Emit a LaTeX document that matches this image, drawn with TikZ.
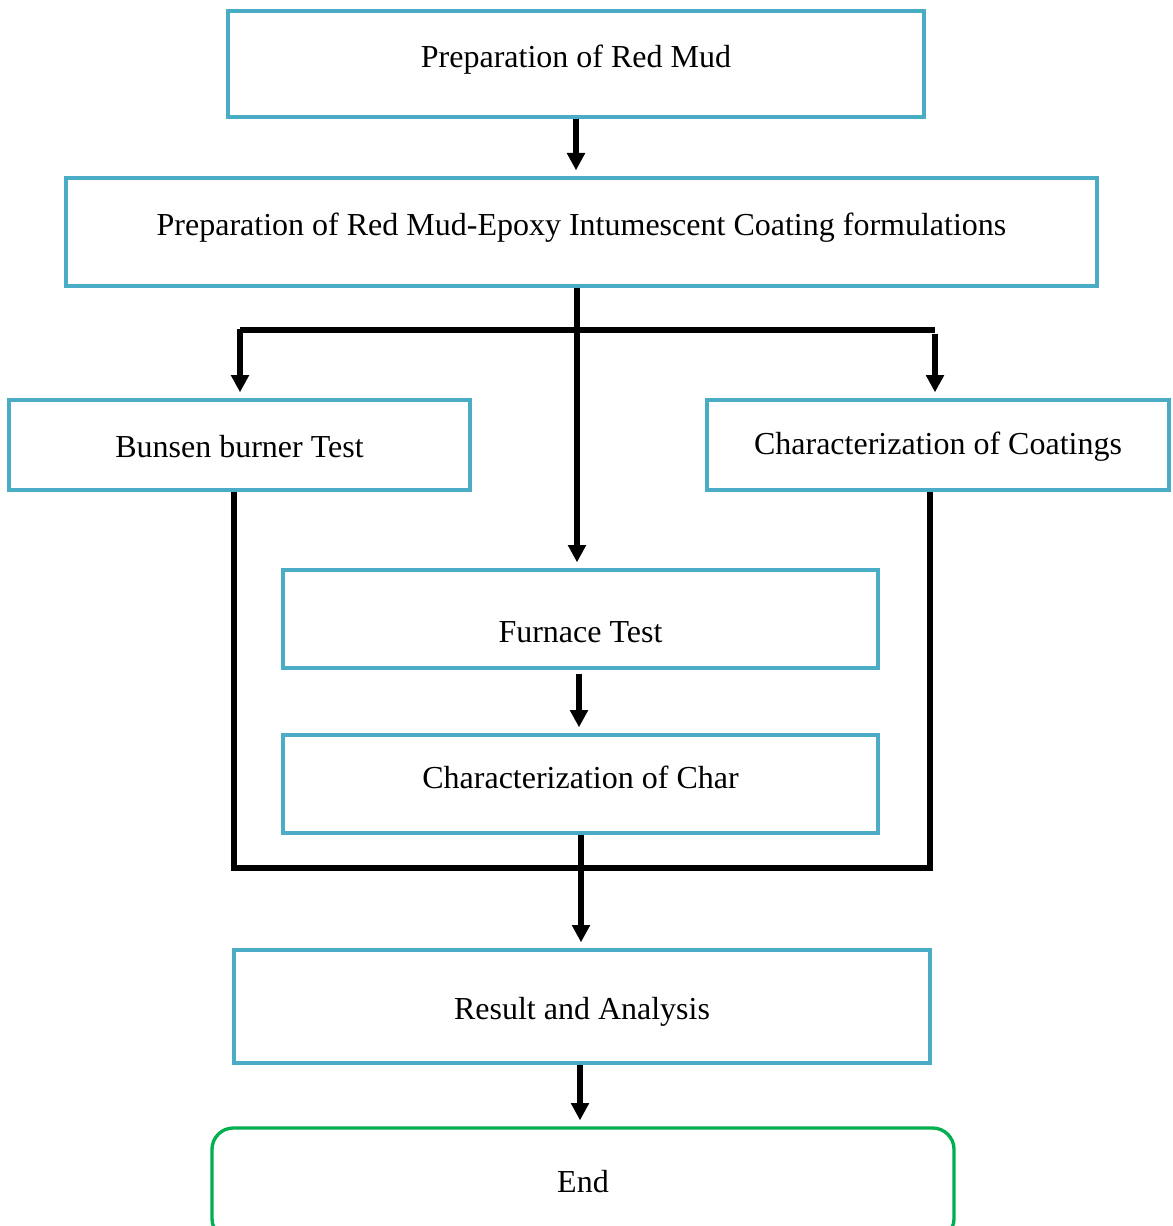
\documentclass[tikz,border=0pt]{standalone}
\usepackage{fontspec}
\setmainfont{Liberation Serif}
\usetikzlibrary{arrows.meta}
\definecolor{boxblue}{HTML}{4BACC6}
\definecolor{endgreen}{HTML}{00B050}
\newcommand\rtxt[2]{\raisebox{#1}[\height][\depth]{#2}}
\begin{document}
\begin{tikzpicture}[x=0.75pt,y=-0.75pt,
  box/.style={draw=boxblue, line width=2.5pt, rectangle, inner sep=0pt,
    font=\fontsize{24}{28}\selectfont},
  endbox/.style={draw=endgreen, line width=2.5pt, rectangle, rounded corners=16pt, inner sep=0pt,
    font=\fontsize{24}{28}\selectfont},
  conn/.style={line width=3.8pt, black},
  arr/.style={conn, -{Triangle[width=13pt,length=13pt]}, shorten >=4.5pt}]
\useasboundingbox (0,0) rectangle (1172,1226);
% boxes
\node[box, minimum width=696*0.75pt, minimum height=106*0.75pt] (b1) at (576,64) {\rtxt{3pt}{Preparation of Red Mud}};
\node[box, minimum width=1031*0.75pt, minimum height=108*0.75pt] (b2) at (581.5,232) {\rtxt{3pt}{Preparation of Red Mud-Epoxy Intumescent Coating formulations}};
\node[box, minimum width=461*0.75pt, minimum height=90*0.75pt] (b3) at (239.5,445) {\rtxt{-1.5pt}{Bunsen burner Test}};
\node[box, minimum width=462*0.75pt, minimum height=90*0.75pt] (b4) at (938,445) {\rtxt{-1.5pt}{Characterization of Coatings}};
\node[box, minimum width=595*0.75pt, minimum height=98*0.75pt] (b5) at (580.5,619) {\rtxt{-10pt}{Furnace Test}};
\node[box, minimum width=595*0.75pt, minimum height=98*0.75pt] (b6) at (580.5,784) {\rtxt{5pt}{Characterization of Char}};
\node[box, minimum width=696*0.75pt, minimum height=113*0.75pt] (b7) at (582,1006.5) {\rtxt{-4pt}{Result and Analysis}};
\node[endbox, minimum width=742*0.75pt, minimum height=112*0.75pt] (b8) at (583,1184) {\rtxt{2pt}{End}};
% junction coordinates
\coordinate (hl) at (240,330);
\coordinate (hr) at (935,330);
\coordinate (bl) at (234,868);
\coordinate (br) at (930,868);
\coordinate (x1) at (576,0);
\coordinate (x2) at (577,0);
\coordinate (x5) at (579,0);
\coordinate (x6) at (581,0);
\coordinate (x7) at (580,0);
% connectors
\draw[arr] (x1 |- b1.south) -- (x1 |- b2.north);
\draw[conn] (hl) -- (hr);
\draw[arr] ([yshift=1pt]hl) -- (hl |- b3.north);
\draw[arr] ([yshift=-3pt]hr) -- (hr |- b4.north);
\draw[arr] (x2 |- b2.south) -- (x2 |- b5.north);
\draw[conn] (bl |- b3.south) -- (bl) -- (br) -- (br |- b4.south);
\draw[arr] ([yshift=-3pt]x5 |- b5.south) -- (x5 |- b6.north);
\draw[arr] (x6 |- b6.south) -- (x6 |- b7.north);
\draw[arr] (x7 |- b7.south) -- (x7 |- b8.north);
\end{tikzpicture}
\end{document}
